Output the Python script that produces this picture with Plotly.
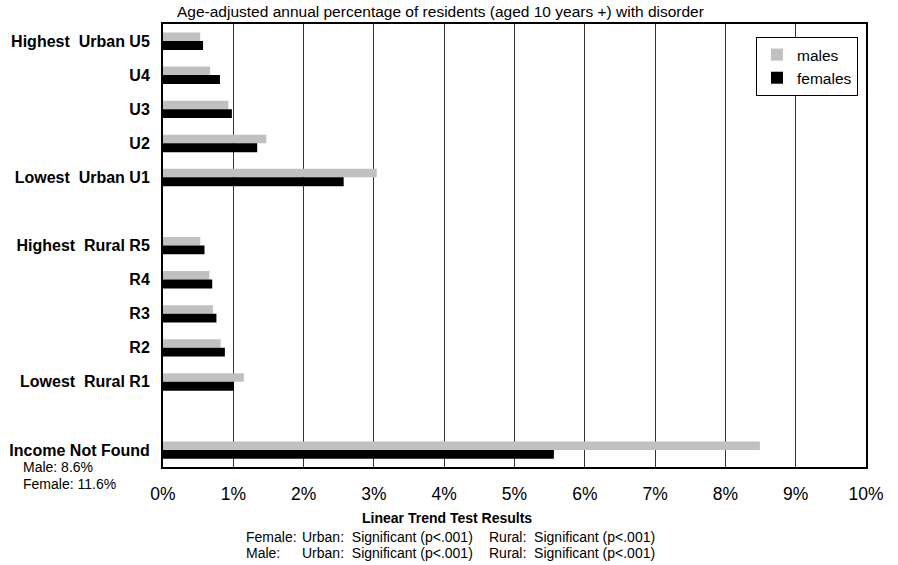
import plotly.graph_objects as go

categories = ["Highest  Urban U5", "U4", "U3", "U2", "Lowest  Urban U1", " ",
              "Highest  Rural R5", "R4", "R3", "R2", "Lowest  Rural R1", "  ",
              "Income Not Found"]
males = [0.53, 0.67, 0.93, 1.47, 3.04, None, 0.53, 0.66, 0.71, 0.82, 1.15, None, 8.49]
females = [0.57, 0.81, 0.98, 1.34, 2.57, None, 0.59, 0.70, 0.76, 0.88, 1.01, None, 5.56]
x_ticks = list(range(0, 11))

title_text = "Age-adjusted annual percentage of residents (aged 10 years +) with disorder"
note_lines = ["Male: 8.6%", "Female: 11.6%"]

W, H = 898, 565
L, T = 163, 24
R = W - 866
B = H - 467
pw = W - L - R
ph = H - T - B

def px(x):
    return (x - L) / pw

def py(y):
    return (H - B - y) / ph

fig = go.Figure()
fig.add_trace(go.Bar(y=categories, x=males, orientation="h", name="males",
                     marker=dict(color="#c0c0c0", line=dict(width=0)),
                     width=0.25, offset=-0.25))
fig.add_trace(go.Bar(y=categories, x=females, orientation="h", name="females",
                     marker=dict(color="#000000", line=dict(width=0)),
                     width=0.26, offset=0.0))

font_family = "Liberation Sans, Arial, sans-serif"

def ann(text, x, y, size, xanchor="left"):
    return dict(text=text, x=px(x), y=py(y), xref="paper", yref="paper",
                showarrow=False, font=dict(size=size, color="black"),
                xanchor=xanchor, yanchor="middle")

annotations = [
    ann(title_text, 440, 12, 15.5, "center"),
    ann(note_lines[0], 21, 467, 14),
    ann(note_lines[1], 21, 484, 14),
    ann("<b>Linear Trend Test Results</b>", 447, 518, 14, "center"),
    ann("Female:", 244, 537, 14),
    ann("Urban:&nbsp;&nbsp;Significant (p&lt;.001)", 300, 537, 14),
    ann("Rural:&nbsp;&nbsp;Significant (p&lt;.001)", 487, 537, 14),
    ann("Male:", 244, 553, 14),
    ann("Urban:&nbsp;&nbsp;Significant (p&lt;.001)", 300, 553, 14),
    ann("Rural:&nbsp;&nbsp;Significant (p&lt;.001)", 487, 553, 14),
]

fig.update_layout(
    width=W, height=H,
    margin=dict(l=L, r=R, t=T, b=B, pad=0, autoexpand=False),
    paper_bgcolor="white", plot_bgcolor="white",
    font=dict(family=font_family, color="black"),
    barmode="overlay",
    showlegend=True,
    legend=dict(x=px(756), y=py(37), xanchor="left", yanchor="top",
                bordercolor="black", borderwidth=1, bgcolor="white",
                font=dict(size=15.5, color="black"), traceorder="normal",
                itemwidth=30),
    annotations=annotations,
)

fig.update_xaxes(range=[0, 10], tickvals=x_ticks, ticktext=[f"{v}%" for v in x_ticks],
                 showgrid=True, gridcolor="#333333", gridwidth=1,
                 showline=True, linecolor="black", linewidth=2, mirror=True,
                 ticks="", tickfont=dict(size=17.5, color="black"), ticklabelstandoff=10,
                 zeroline=False, fixedrange=True, automargin=False)
fig.update_yaxes(type="category", categoryorder="array", categoryarray=categories,
                 autorange="reversed", showgrid=False,
                 showline=True, linecolor="black", linewidth=2, mirror=True,
                 ticks="", tickfont=dict(size=16, color="black", weight="bold"),
                 ticklabelstandoff=8, zeroline=False, fixedrange=True, automargin=False)

fig.write_html("out.html", config={"displayModeBar": False},
               post_script="document.body.style.margin='0';document.body.style.overflow='hidden';")
